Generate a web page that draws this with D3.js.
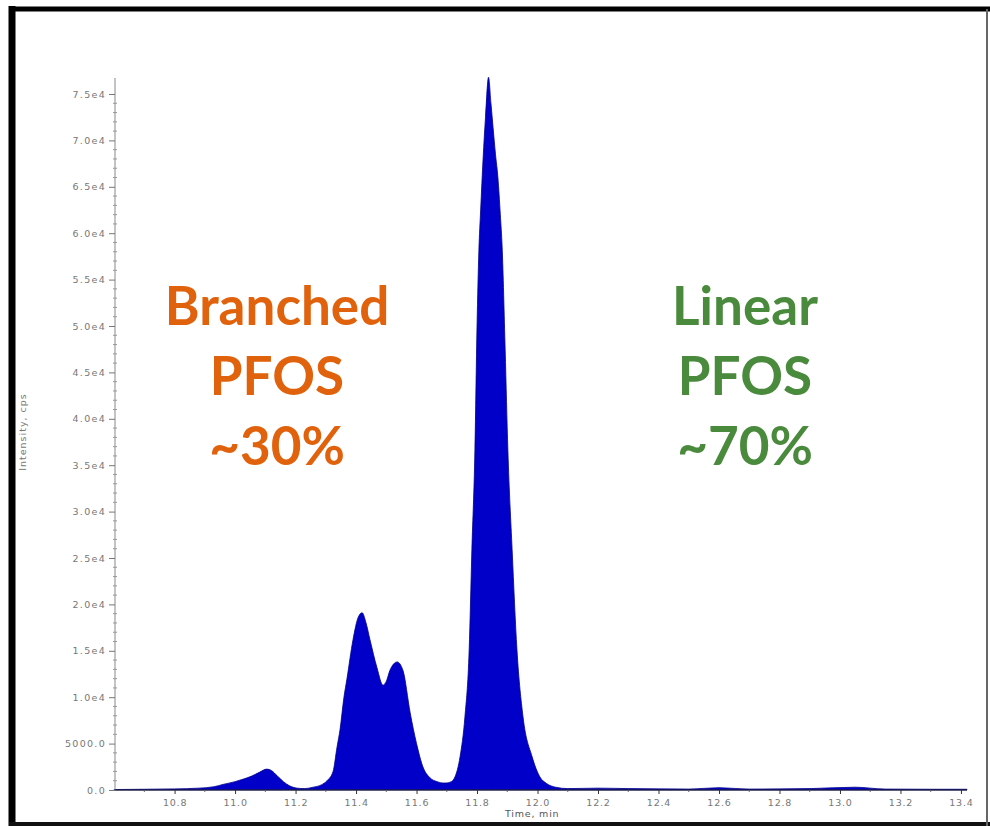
<!DOCTYPE html>
<html>
<head>
<meta charset="utf-8">
<script src="https://cdn.jsdelivr.net/npm/d3@7"></script>
<style>
  html, body { margin: 0; padding: 0; background: #fff; }
  svg { display: block; }
</style>
</head>
<body>
<div id="chart"></div>
<script>
const times = [
  10.60, 10.70, 10.80, 10.88, 10.93, 10.96, 11.00, 11.03, 11.055, 11.08,
  11.105, 11.12, 11.14, 11.16, 11.18, 11.205, 11.23, 11.258, 11.285, 11.304,
  11.324, 11.337, 11.347, 11.36, 11.37, 11.39, 11.407, 11.42, 11.433, 11.446,
  11.469, 11.489, 11.50, 11.512, 11.536, 11.555, 11.579, 11.60, 11.621, 11.645,
  11.668, 11.688, 11.700, 11.715, 11.727, 11.744, 11.760, 11.774, 11.783, 11.793,
  11.800, 11.806, 11.812, 11.820, 11.828, 11.838, 11.846, 11.853, 11.861, 11.869,
  11.877, 11.883, 11.893, 11.902, 11.916, 11.932, 11.952, 11.982, 12.008, 12.030,
  12.060, 12.10, 12.20, 12.30, 12.50, 12.60, 12.70, 12.90, 13.05, 13.15,
  13.30, 13.42
];
const intensity = [
  50, 80, 120, 200, 350, 600, 900, 1200, 1500, 1900,
  2250, 2100, 1500, 900, 450, 200, 150, 300, 550, 1000,
  2000, 4600, 6500, 10000, 12000, 16200, 18600, 19100, 18000, 16200,
  13200, 11300, 11700, 12900, 13800, 12900, 8300, 5000, 2500, 1300,
  900, 750, 760, 900, 1400, 3600, 7900, 15100, 25900, 36600,
  50000, 58000, 62500, 68000, 72500, 76800, 74000, 71400, 68500, 66000,
  62000, 58500, 47400, 36600, 25900, 15100, 7900, 3600, 1400, 700,
  300, 150, 200, 150, 100, 250, 100, 150, 300, 100,
  80, 80
];

// Graduations des axes
const yTickValues = [0, 5000, 10000, 15000, 20000, 25000, 30000, 35000, 40000, 45000, 50000, 55000, 60000, 65000, 70000, 75000];
const yTickLabels = ["0.0", "5000.0", "1.0e4", "1.5e4", "2.0e4", "2.5e4", "3.0e4", "3.5e4", "4.0e4", "4.5e4", "5.0e4", "5.5e4", "6.0e4", "6.5e4", "7.0e4", "7.5e4"];
const xTickValues = [10.8, 11.0, 11.2, 11.4, 11.6, 11.8, 12.0, 12.2, 12.4, 12.6, 12.8, 13.0, 13.2, 13.4];
const xTickLabels = ["10.8", "11.0", "11.2", "11.4", "11.6", "11.8", "12.0", "12.2", "12.4", "12.6", "12.8", "13.0", "13.2", "13.4"];

// Annotations
const branchedLines = ["Branched", "PFOS", "~30%"];
const linearLines = ["Linear", "PFOS", "~70%"];

const width = 990;
const height = 826;

const svg = d3.select("#chart").append("svg")
    .attr("width", width)
    .attr("height", height);

svg.append("rect").attr("width", width).attr("height", height).attr("fill", "#fff");

// Échelles
const x = d3.scaleLinear().domain([10.603, 13.42]).range([115, 967]);
const y = d3.scaleLinear().domain([0, 5000]).range([790, 743.6]);

const data = times.map((t, i) => ({ t: t, v: intensity[i] }));

// Aire remplie du chromatogramme
const area = d3.area()
    .x(d => x(d.t))
    .y0(y(0))
    .y1(d => y(d.v))
    .curve(d3.curveMonotoneX);

svg.append("path")
    .datum(data)
    .attr("d", area)
    .attr("fill", "#0000c8")
    .attr("stroke", "#00008a")
    .attr("stroke-width", 0.8);

// Axe Y
const yAxis = d3.axisLeft(y)
    .tickValues(yTickValues)
    .tickFormat((d, i) => yTickLabels[i])
    .tickSize(6)
    .tickPadding(3);

const gy = svg.append("g")
    .attr("transform", "translate(115,0)")
    .call(yAxis);
gy.select(".domain").attr("d", `M0,${y(0)}V78`).attr("stroke", "#888");
gy.selectAll(".tick line").attr("stroke", "#777");
gy.selectAll(".tick text")
    .attr("font-family", "DejaVu Sans, sans-serif")
    .attr("font-size", "9.5px")
    .attr("letter-spacing", "1.3px")
    .attr("fill", "#777");

// Petites graduations Y
gy.selectAll("line.minor")
    .data(d3.range(0, 76000, 1000).filter(v => v % 5000 !== 0))
    .join("line")
    .attr("class", "minor")
    .attr("x1", -2).attr("x2", 2)
    .attr("y1", d => y(d)).attr("y2", d => y(d))
    .attr("stroke", "#999");

// Axe X
const xAxis = d3.axisBottom(x)
    .tickValues(xTickValues)
    .tickFormat((d, i) => xTickLabels[i])
    .tickSize(4)
    .tickPadding(5);

const gx = svg.append("g")
    .attr("transform", `translate(0,${y(0)})`)
    .call(xAxis);
gx.select(".domain").attr("d", `M115,0H967`).attr("stroke", "#222");
gx.selectAll(".tick line").attr("stroke", "#333");
gx.selectAll(".tick text")
    .attr("font-family", "DejaVu Sans, sans-serif")
    .attr("font-size", "9.5px")
    .attr("letter-spacing", "0.8px")
    .attr("fill", "#777");

gx.selectAll("line.minor")
    .data(d3.range(10.7, 13.45, 0.2))
    .join("line")
    .attr("class", "minor")
    .attr("x1", d => x(d)).attr("x2", d => x(d))
    .attr("y1", 0).attr("y2", 2)
    .attr("stroke", "#666");

// Titres des axes
svg.append("text")
    .attr("x", 505)
    .attr("y", 817)
    .attr("font-family", "DejaVu Sans, sans-serif")
    .attr("font-size", "9.5px")
    .attr("letter-spacing", "0.8px")
    .attr("fill", "#555")
    .text("Time, min");

svg.append("text")
    .attr("transform", "translate(26,432) rotate(-90)")
    .attr("text-anchor", "middle")
    .attr("font-family", "DejaVu Sans, sans-serif")
    .attr("font-size", "9.5px")
    .attr("letter-spacing", "1px")
    .attr("fill", "#777")
    .text("Intensity, cps");

// Annotations Branched / Linear
function addLabel(lines, cx, color) {
    svg.append("g").selectAll("text")
        .data(lines)
        .join("text")
        .attr("x", cx)
        .attr("y", (d, i) => 325 + i * 70)
        .attr("text-anchor", "middle")
        .attr("font-family", "Lato, 'Open Sans', sans-serif")
        .attr("font-weight", "bold")
        .attr("font-size", "53px")
        .attr("fill", color)
        .text(d => d);
}
addLabel(branchedLines, 277, "#e0620c");
addLabel(linearLines, 745, "#4a8a3c");

// Cadre noir
svg.append("line").attr("x1", 12).attr("x2", 12).attr("y1", 6).attr("y2", 826).attr("stroke", "#000").attr("stroke-width", 7);
svg.append("line").attr("x1", 9).attr("x2", 990).attr("y1", 9).attr("y2", 9).attr("stroke", "#000").attr("stroke-width", 5);
svg.append("line").attr("x1", 9).attr("x2", 990).attr("y1", 824).attr("y2", 824).attr("stroke", "#111").attr("stroke-width", 4);
svg.append("line").attr("x1", 987).attr("x2", 987).attr("y1", 9).attr("y2", 826).attr("stroke", "#666").attr("stroke-width", 2);
</script>
</body>
</html>
